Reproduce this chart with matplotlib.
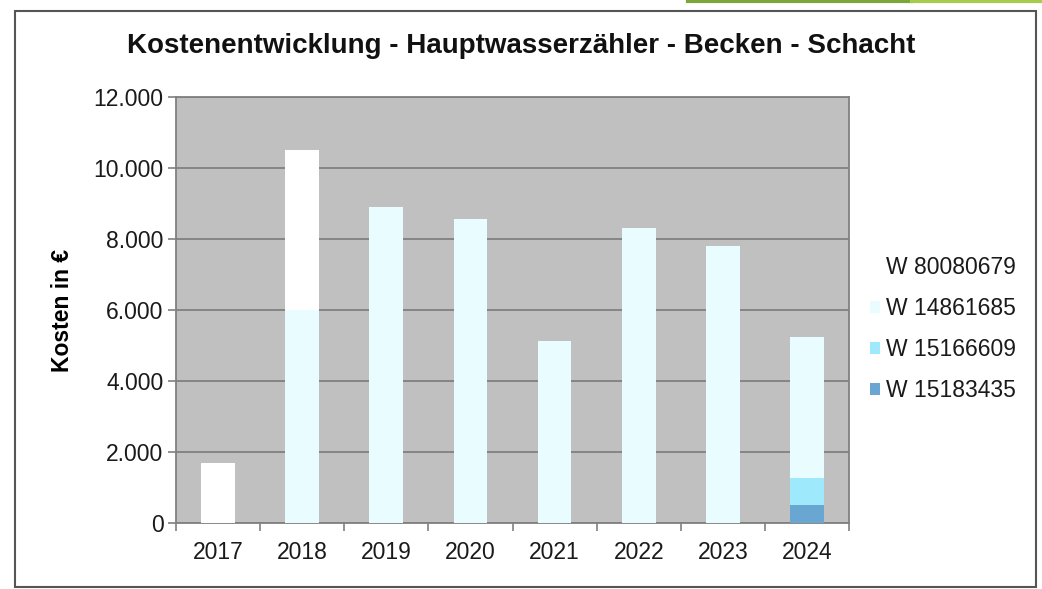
import matplotlib.pyplot as plt
import numpy as np
from matplotlib.patches import Rectangle
from matplotlib.lines import Line2D
from matplotlib.ticker import FuncFormatter, FixedLocator

plt.rcParams['font.family'] = ['Liberation Sans', 'DejaVu Sans']

years = ['2017', '2018', '2019', '2020', '2021', '2022', '2023', '2024']
# stacked from bottom to top
w_15183435 = [0, 0, 0, 0, 0, 0, 0, 500]
w_15166609 = [0, 0, 0, 0, 0, 0, 0, 770]
w_14861685 = [0, 6000, 8900, 8570, 5130, 8310, 7800, 3970]
w_80080679 = [1700, 4500, 0, 0, 0, 0, 0, 0]

series = [
    ('W 15183435', w_15183435, '#6aa6d2'),
    ('W 15166609', w_15166609, '#9eeafc'),
    ('W 14861685', w_14861685, '#e9fcff'),
    ('W 80080679', w_80080679, '#ffffff'),
]


def thousands(v, pos):
    return '{:,.0f}'.format(v).replace(',', '.')


fig = plt.figure(figsize=(10.42, 5.89), dpi=100)
ax = fig.add_axes([0.1689, 0.112, 0.6459, 0.7233])
ax.set_facecolor('#c0c0c0')

x = np.arange(len(years))
bottom = np.zeros(len(years))
handles = []
for name, vals, col in series:
    vals = np.array(vals, dtype=float)
    b = ax.bar(x, vals, 0.4, bottom=bottom, color=col, edgecolor='none', zorder=3, label=name)
    handles.append(b)
    bottom += vals

ax.set_xlim(-0.5, len(years) - 0.5)
ax.set_ylim(0, 12000)
ax.set_yticks(np.arange(0, 12001, 2000))
ax.yaxis.set_major_formatter(FuncFormatter(thousands))
ax.grid(axis='y', color='#808080', linewidth=1.3, zorder=1)

ax.set_xticks(x)
ax.set_xticklabels(years)
ax.xaxis.set_minor_locator(FixedLocator(np.arange(-0.5, len(years), 1.0)))
ax.tick_params(axis='x', which='major', length=0, pad=13, labelsize=16.5, colors='#1a1a1a')
ax.tick_params(axis='x', which='minor', length=6, width=1.2, color='#808080', direction='out')
ax.tick_params(axis='y', length=6, width=1.2, color='#808080', labelsize=16.5, labelcolor='#1a1a1a', pad=3)

for s in ax.spines.values():
    s.set_color('#808080')
    s.set_linewidth(1.3)

ax.set_ylabel('Kosten in €', fontsize=16.5, fontweight='bold', labelpad=14)

fig.text(0.5, 0.922, 'Kostenentwicklung - Hauptwasserzähler - Becken - Schacht',
         ha='center', va='center', fontsize=20, fontweight='bold', color='#111111')

leg = ax.legend(handles=handles[::-1], loc='center left', bbox_to_anchor=(1.0, 0.455),
                frameon=False, fontsize=16.5, handlelength=0.45, handleheight=0.45,
                handletextpad=0.25, labelspacing=0.78)
for t in leg.get_texts():
    t.set_color('#1a1a1a')

# outer frame and green strip at the top
fig.patches.append(Rectangle((0.0144, 0.004), 0.980, 0.978, transform=fig.transFigure,
                             fill=False, edgecolor='#555555', linewidth=1.5))
fig.lines.append(Line2D([0.66, 0.875], [0.998, 0.998], transform=fig.transFigure,
                        color='#7aa63a', linewidth=3))
fig.lines.append(Line2D([0.875, 1.0], [0.998, 0.998], transform=fig.transFigure,
                        color='#a8cb4c', linewidth=3))

fig.savefig('out.png', dpi=100)
